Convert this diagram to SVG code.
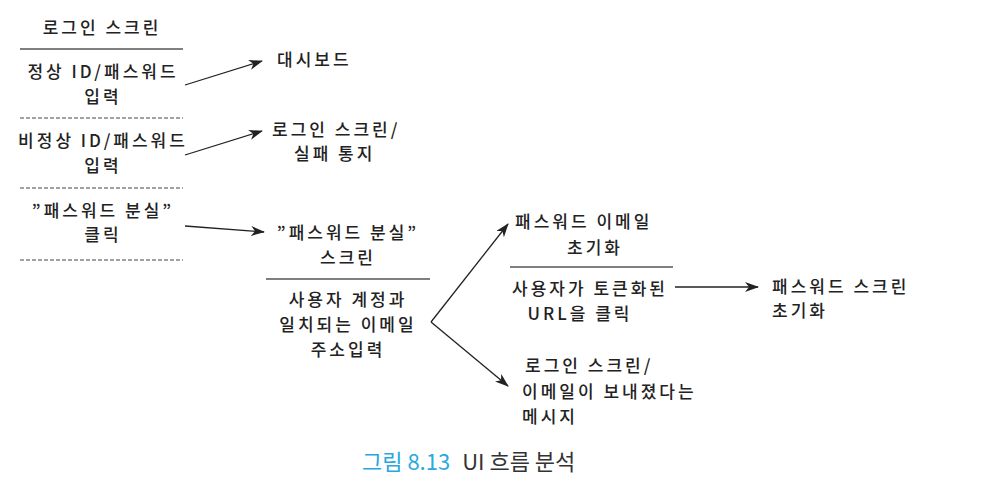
<svg xmlns="http://www.w3.org/2000/svg" width="991" height="497" viewBox="0 0 991 497">
<style>
.t{font-family:"Noto Sans CJK KR","Noto Sans",sans-serif;font-size:17px;font-weight:500;fill:#222;letter-spacing:3px}
.m{text-anchor:middle}
.sep{stroke:#555;stroke-width:1.3}
.dash{stroke:#444;stroke-width:1;stroke-dasharray:4 2}
.c{stroke:#222;stroke-width:1.3;fill:none}
.cap{font-family:"Noto Sans CJK KR","Liberation Sans",sans-serif;font-size:22px}
</style>
<defs>
<marker id="ah" viewBox="0 0 14 10" refX="13" refY="5" markerWidth="14" markerHeight="10" markerUnits="userSpaceOnUse" orient="auto">
<path d="M0,0 L14,5 L0,10 L4,5 Z" fill="#222"/>
</marker>
</defs>
<rect width="991" height="497" fill="#fff"/>
<g id="login">
<text class="t m" x="102" y="34">로그인 스크린</text>
<line class="sep" x1="20" y1="49" x2="183" y2="49"/>
<text class="t m" x="103" y="78">정상 ID/패스워드</text>
<text class="t m" x="103" y="103">입력</text>
<line class="dash" x1="20" y1="118" x2="183" y2="118"/>
<text class="t m" x="103" y="147">비정상 ID/패스워드</text>
<text class="t m" x="103" y="172">입력</text>
<line class="dash" x1="20" y1="188" x2="183" y2="188"/>
<text class="t m" x="103" y="217">”패스워드 분실”</text>
<text class="t m" x="103" y="241">클릭</text>
<line class="dash" x1="20" y1="260" x2="183" y2="260"/>
</g>
<g id="dashboard">
<text class="t" x="277" y="66">대시보드</text>
</g>
<g id="loginfail">
<text class="t" x="272" y="136">로그인 스크린/</text>
<text class="t" x="294" y="160">실패 통지</text>
</g>
<g id="forgot">
<text class="t m" x="348" y="239">”패스워드 분실”</text>
<text class="t m" x="348" y="264">스크린</text>
<line class="sep" x1="266" y1="279" x2="430" y2="279"/>
<text class="t m" x="348" y="306">사용자 계정과</text>
<text class="t m" x="348" y="331">일치되는 이메일</text>
<text class="t m" x="348" y="356">주소입력</text>
</g>
<g id="resetmail">
<text class="t" x="515" y="228">패스워드 이메일</text>
<text class="t m" x="595" y="254">초기화</text>
<line class="sep" x1="510" y1="267" x2="673" y2="267"/>
<text class="t" x="512" y="295">사용자가 토큰화된</text>
<text class="t m" x="580" y="320">URL을 클릭</text>
</g>
<g id="resetscreen">
<text class="t" x="772" y="293">패스워드 스크린</text>
<text class="t" x="772" y="317">초기화</text>
</g>
<g id="sent">
<text class="t" x="525" y="372">로그인 스크린/</text>
<text class="t" x="522" y="398">이메일이 보내졌다는</text>
<text class="t" x="522" y="423">메시지</text>
</g>
<g id="connectors">
<line class="c" x1="185" y1="85" x2="262" y2="61" marker-end="url(#ah)"/>
<line class="c" x1="185" y1="155" x2="262" y2="131" marker-end="url(#ah)"/>
<line class="c" x1="185" y1="226" x2="264" y2="232" marker-end="url(#ah)"/>
<line class="c" x1="431" y1="322" x2="508" y2="224" marker-end="url(#ah)"/>
<line class="c" x1="431" y1="322" x2="508" y2="386" marker-end="url(#ah)"/>
<line class="c" x1="675" y1="287" x2="758" y2="287" marker-end="url(#ah)"/>
</g>
<g id="caption">
<text class="cap" x="362" y="470"><tspan fill="#29a8e0">그림 8.13</tspan><tspan fill="#333" dx="12">UI 흐름 분석</tspan></text>
</g>
</svg>
